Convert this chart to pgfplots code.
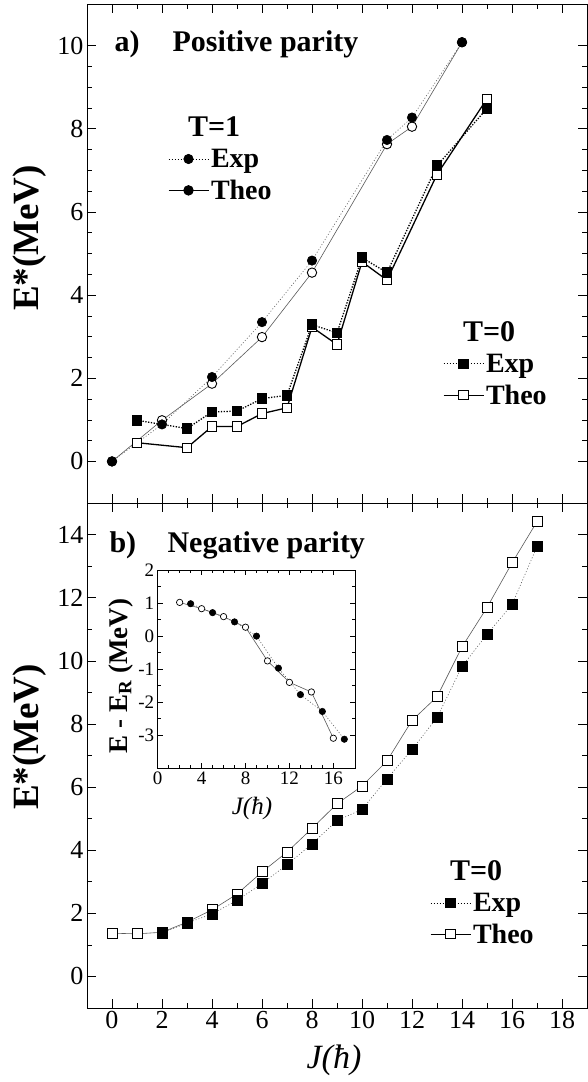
\documentclass[border=0pt]{standalone}
\usepackage{fontspec}
\setmainfont{Liberation Serif}
\usepackage{pgfplots}
\pgfplotsset{compat=1.18}

\pgfplotsset{
  base/.style={
    scale only axis, width=500pt,
    xmin=-1, xmax=19, xtick={0,2,...,18}, minor x tick num=1,
    tick align=inside, tick pos=both,
    major tick length=9pt, minor tick length=5pt,
    axis line style={line width=0.8pt},
    every tick/.style={black, line width=0.6pt},
    /pgf/number format/assume math mode=true,
    tick label style={font=\fontsize{26}{28}\selectfont},
    legend style={draw=none, fill=none, inner sep=0pt, outer sep=0pt,
      font=\bfseries\fontsize{28}{30}\selectfont, cells={anchor=west},
      row sep=7pt},
    legend image code/.code={\draw[mark repeat=2, mark phase=2, #1] plot coordinates {(0pt,0pt) (20pt,0pt) (40pt,0pt)};},
  },
  gthin/.style={black!65, line width=0.6pt},
  fcirc/.style={mark=*, mark size=4.7pt, mark options={solid, fill=black, draw=black}},
  ocirc/.style={mark=*, mark size=4.7pt, mark options={solid, fill=white, draw=black, line width=0.9pt}},
  fsq/.style={mark=square*, mark size=4.7pt, mark options={solid, fill=black, draw=black}},
  osq/.style={mark=square*, mark size=4.7pt, mark options={solid, fill=white, draw=black, line width=1pt}},
  expdot/.style={dash pattern=on 1pt off 2pt},
}

\begin{document}
\begin{tikzpicture}
\useasboundingbox (0pt,0pt) rectangle (587pt,-1082pt);

% ---------------- top panel : T=1 ----------------
\begin{axis}[base, at={(87pt,-503pt)}, anchor=south west, height=499pt,
  ymin=-1, ymax=11, ytick={0,2,...,10}, minor y tick num=3, xticklabels={},
  legend style={at={(0.162,0.778)}, anchor=north west}]
\addplot[gthin, ocirc, forget plot] coordinates {(0,0) (2,0.99) (4,1.87) (6,2.99) (8,4.54) (11,7.63) (12,8.05) (14,10.08)};
\addplot[gthin, expdot, fcirc, forget plot] coordinates {(0,0) (2,0.89) (4,2.03) (6,3.35) (8,4.83) (11,7.73) (12,8.27) (14,10.08)};
\addlegendimage{empty legend}
\addlegendentry{\hspace*{-23pt}\fontsize{30}{32}\selectfont T=1}
\addlegendimage{black, line width=0.7pt, expdot, fcirc}
\addlegendentry{Exp}
\addlegendimage{black, line width=1pt, fcirc}
\addlegendentry{Theo}
\end{axis}

% ---------------- top panel : T=0 ----------------
\begin{axis}[base, at={(87pt,-503pt)}, anchor=south west, height=499pt,
  ymin=-1, ymax=11, hide axis,
  legend style={at={(0.712,0.368)}, anchor=north west}]
\addplot[black, line width=1.3pt, osq, forget plot] coordinates {(1,0.45) (3,0.33) (4,0.84) (5,0.84) (6,1.15) (7,1.29) (8,3.23) (9,2.81) (10,4.80) (11,4.36) (13,6.90) (15,8.72)};
\addplot[black, line width=1.3pt, dash pattern=on 1.3pt off 1.5pt, fsq, forget plot] coordinates {(1,0.99) (3,0.79) (4,1.19) (5,1.21) (6,1.51) (7,1.59) (8,3.29) (9,3.09) (10,4.90) (11,4.54) (13,7.11) (15,8.49)};
\addlegendimage{empty legend}
\addlegendentry{\hspace*{-23pt}\fontsize{30}{32}\selectfont T=0}
\addlegendimage{black, line width=0.7pt, expdot, fsq}
\addlegendentry{Exp}
\addlegendimage{black, line width=1pt, osq}
\addlegendentry{Theo}
\end{axis}

% ---------------- bottom panel ----------------
\begin{axis}[base, at={(87pt,-1008pt)}, anchor=south west, height=505pt,
  ymin=-1, ymax=15, ytick={0,2,...,14}, minor y tick num=1,
  legend style={at={(0.686,0.296)}, anchor=north west}]
\addplot[gthin, osq, mark size=5pt, forget plot] coordinates {(0,1.37) (1,1.35) (2,1.40) (3,1.72) (4,2.11) (5,2.61) (6,3.31) (7,3.94) (8,4.69) (9,5.47) (10,6.03) (11,6.83) (12,8.11) (13,8.86) (14,10.44) (15,11.69) (16,13.10) (17,14.41)};
\addplot[gthin, expdot, fsq, mark size=5pt, forget plot] coordinates {(2,1.38) (3,1.69) (4,1.98) (5,2.41) (6,2.94) (7,3.54) (8,4.20) (9,4.94) (10,5.29) (11,6.26) (12,7.19) (13,8.20) (14,9.82) (15,10.84) (16,11.78) (17,13.62)};
\addlegendimage{empty legend}
\addlegendentry{\hspace*{-23pt}\fontsize{30}{32}\selectfont T=0}
\addlegendimage{black, line width=0.7pt, expdot, fsq}
\addlegendentry{Exp}
\addlegendimage{black, line width=1pt, osq}
\addlegendentry{Theo}
\end{axis}

% ---------------- inset ----------------
\begin{axis}[scale only axis, at={(157.7pt,-768.3pt)}, anchor=south west,
  width=197.6pt, height=198.3pt,
  xmin=0, xmax=18, ymin=-4, ymax=2,
  xtick={0,4,...,16}, minor x tick num=3,
  ytick={-3,-2,...,2}, minor y tick num=1,
  tick align=inside, tick pos=both,
  major tick length=5pt, minor tick length=3pt,
  axis line style={line width=0.7pt},
  every tick/.style={black, line width=0.5pt},
  /pgf/number format/assume math mode=true,
  tick label style={font=\fontsize{19}{21}\selectfont},
  axis background/.style={fill=white}]
\addplot[gthin, mark=*, mark size=3.2pt, mark options={solid, fill=white, draw=black, line width=0.7pt}] coordinates {(2,1.02) (4,0.83) (6,0.59) (8,0.27) (10,-0.75) (12,-1.40) (14,-1.69) (16,-3.09)};
\addplot[gthin, expdot, mark=*, mark size=3.2pt, mark options={solid, fill=black, draw=black}] coordinates {(3,0.98) (5,0.71) (7,0.43) (9,0.0) (11,-0.97) (13,-1.77) (15,-2.28) (17,-3.12)};
\end{axis}

% ---------------- texts ----------------
\node[anchor=base west, font=\bfseries\fontsize{30}{32}\selectfont] at (111pt,-51pt) {a)};
\node[anchor=base west, font=\bfseries\fontsize{30}{32}\selectfont] at (169pt,-51pt) {Positive parity};
\node[anchor=base west, font=\bfseries\fontsize{30}{32}\selectfont] at (106pt,-552pt) {b)};
\node[anchor=base west, font=\bfseries\fontsize{30}{32}\selectfont] at (164pt,-552pt) {Negative parity};
\node[rotate=90, font=\bfseries\fontsize{37}{39}\selectfont] at (30pt,-238pt) {E*(MeV)};
\node[rotate=90, font=\bfseries\fontsize{37}{39}\selectfont] at (30pt,-737pt) {E*(MeV)};
\node[font=\itshape\fontsize{34}{36}\selectfont] at (334pt,-1060pt) {J(ħ)};
\node[rotate=90, font=\bfseries\fontsize{27}{29}\selectfont] at (121pt,-676pt) {E - E\textsubscript{R} (MeV)};
\node[font=\itshape\fontsize{25}{27}\selectfont] at (252pt,-808pt) {J(ħ)};
\end{tikzpicture}
\end{document}
